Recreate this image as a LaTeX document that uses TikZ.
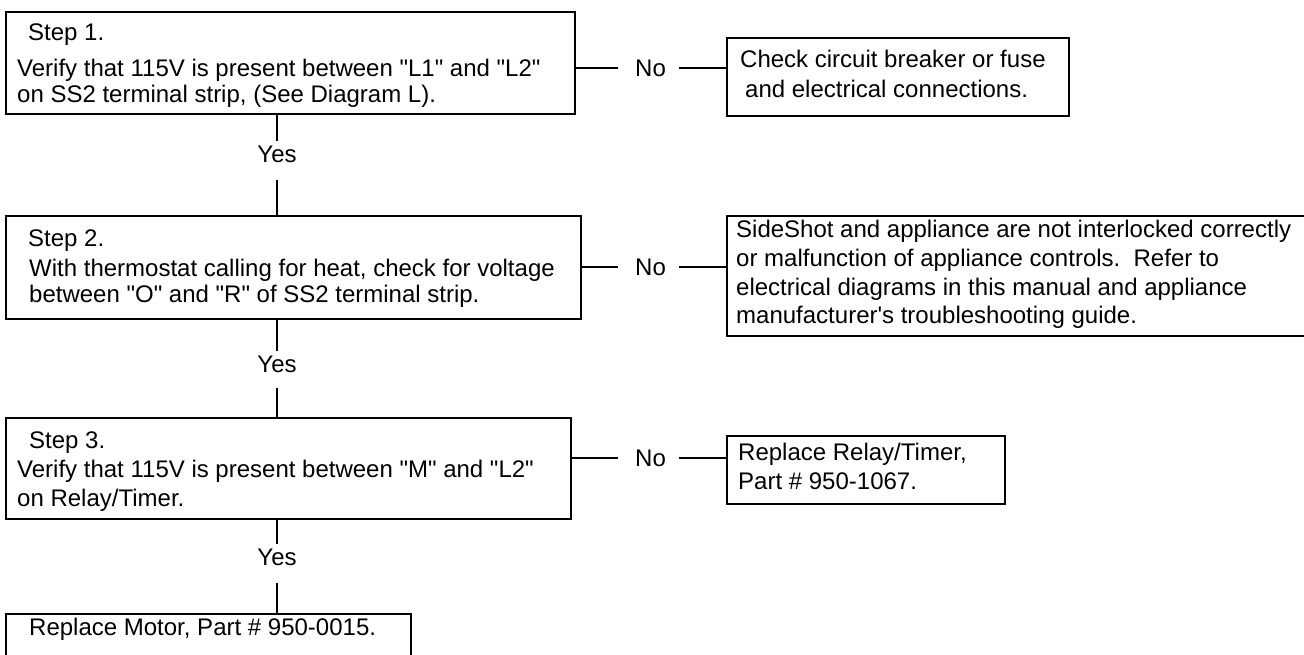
\documentclass[tikz,border=0pt]{standalone}
\usepackage{fontspec}
\setmainfont{Liberation Sans}[Ligatures=TeXOff]
\newcommand\myfs{\fontsize{24}{28}\selectfont}
\begin{document}
\begin{tikzpicture}[x=1pt,y=-1pt,
  box/.style={draw, line width=2.2pt, anchor=north west, inner sep=0pt},
  lbl/.style={anchor=base west, inner sep=0pt, font=\myfs},
  yeslbl/.style={anchor=base, inner sep=0pt, font=\myfs},
  conn/.style={line width=1.7pt}]
\useasboundingbox (0,0) rectangle (1304,654);
% boxes
\node[box, minimum width=569pt, minimum height=102pt] (s1) at (5,11) {};
\node[box, minimum width=342pt, minimum height=78pt] (c1) at (726,37) {};
\node[box, minimum width=575pt, minimum height=103pt] (s2) at (5,215) {};
\node[box, minimum width=592pt, minimum height=120pt] (c2) at (726,215) {};
\node[box, minimum width=565pt, minimum height=101pt] (s3) at (5,417) {};
\node[box, minimum width=278pt, minimum height=68pt] (c3) at (726,435) {};
\node[box, minimum width=405pt, minimum height=46pt] (s4) at (5,613) {};
% texts
\node[lbl] (t11) at (28,40) {Step 1.};
\node[lbl] (t12) at (17,76) {Verify that 115V is present between "L1" and "L2"};
\node[lbl] (t13) at (17,102) {on SS2 terminal strip, (See Diagram L).};
\node[lbl] (u11) at (740,67) {Check circuit breaker or fuse};
\node[lbl] (u12) at (745,97) {and electrical connections.};
\node[lbl] (t21) at (28,246) {Step 2.};
\node[lbl] (t22) at (29,276) {With thermostat calling for heat, check for voltage};
\node[lbl] (t23) at (29,302) {between "O" and "R" of SS2 terminal strip.};
\node[lbl] (u21) at (736,237) {SideShot and appliance are not interlocked correctly};
\node[lbl] (u22) at (736,266) {or malfunction of appliance controls.\ \ Refer to};
\node[lbl] (u23) at (736,295) {electrical diagrams in this manual and appliance};
\node[lbl] (u24) at (736,323) {manufacturer's troubleshooting guide.};
\node[lbl] (t31) at (29,448) {Step 3.};
\node[lbl] (t32) at (17,477) {Verify that 115V is present between "M" and "L2"};
\node[lbl] (t33) at (17,506) {on Relay/Timer.};
\node[lbl] (u31) at (738,460) {Replace Relay/Timer,};
\node[lbl] (u32) at (738,489) {Part \# 950-1067.};
\node[lbl] (t41) at (29,635) {Replace Motor, Part \# 950-0015.};
% labels
\node[yeslbl] (y1) at (277,162) {Yes};
\node[yeslbl] (y2) at (277,372) {Yes};
\node[yeslbl] (y3) at (277,565) {Yes};
\node[lbl] (n1) at (635,76) {No};
\node[lbl] (n2) at (635,275) {No};
\node[lbl] (n3) at (635,466) {No};
% yes connectors
\draw[conn] (y1 |- s1.south) -- ([yshift=4pt]y1.north);
\draw[conn] ([yshift=-18pt]y1.south) -- (y1 |- s2.north);
\draw[conn] (y2 |- s2.south) -- ([yshift=4pt]y2.north);
\draw[conn] ([yshift=-16pt]y2.south) -- (y2 |- s3.north);
\draw[conn] (y3 |- s3.south) -- ([yshift=4pt]y3.north);
\draw[conn] ([yshift=-18pt]y3.south) -- (y3 |- s4.north);
% no connectors
\draw[conn] (n1.west -| s1.east) -- ([xshift=-17pt]n1.west);
\draw[conn] ([xshift=13pt]n1.east) -- (n1.east -| c1.west);
\draw[conn] (n2.west -| s2.east) -- ([xshift=-17pt]n2.west);
\draw[conn] ([xshift=13pt]n2.east) -- (n2.east -| c2.west);
\draw[conn] (n3.west -| s3.east) -- ([xshift=-17pt]n3.west);
\draw[conn] ([xshift=13pt]n3.east) -- (n3.east -| c3.west);
\end{tikzpicture}
\end{document}
